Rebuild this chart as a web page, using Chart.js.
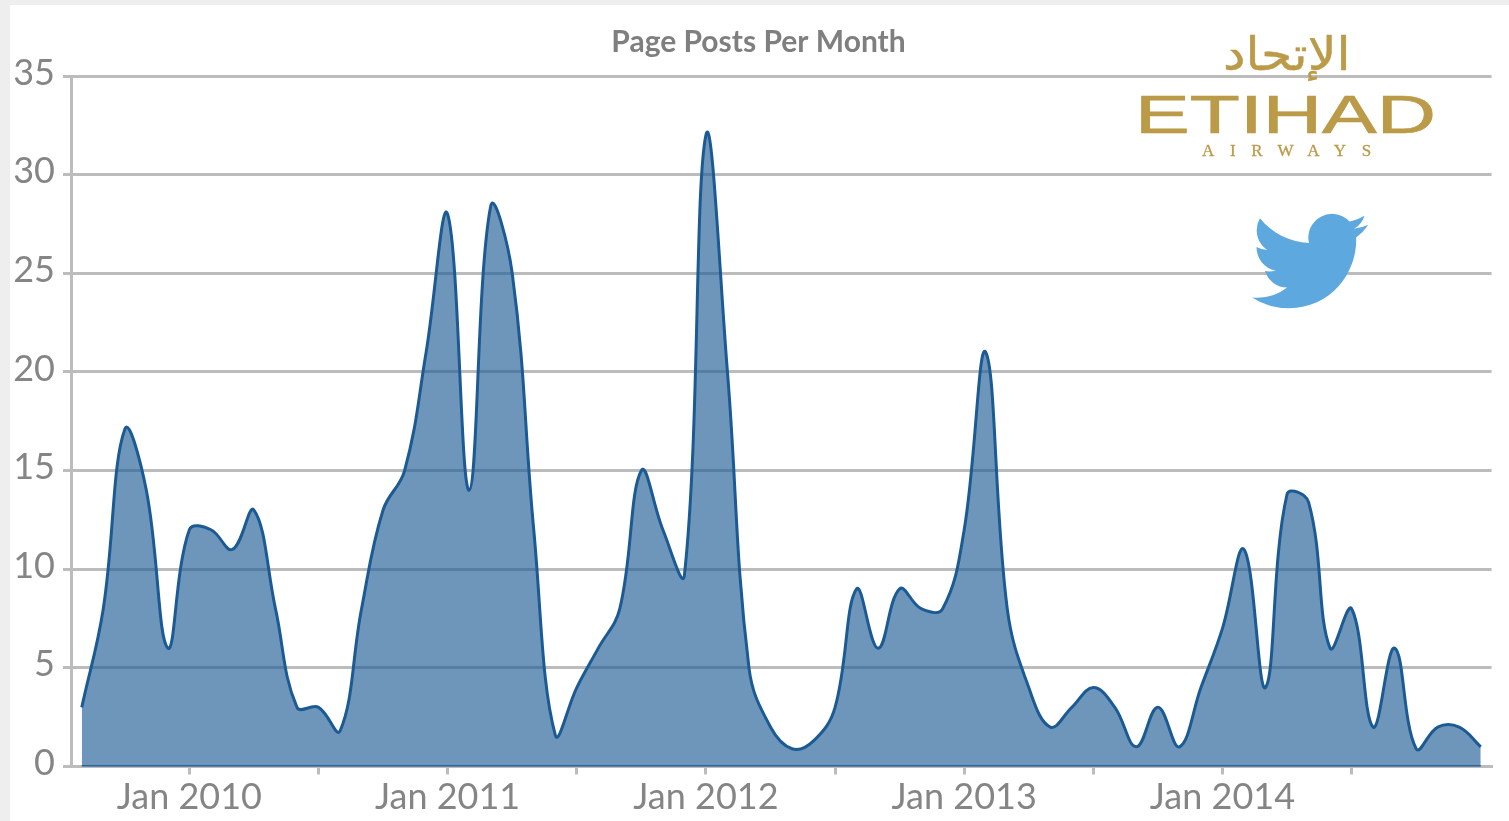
<!DOCTYPE html>
<html>
<head>
<meta charset="utf-8">
<title>Page Posts Per Month</title>
<script src="https://cdn.jsdelivr.net/npm/chart.js@4"></script>
<style>
html, body { margin: 0; width: 1509px; height: 821px; overflow: hidden; background: #eeeeee; }
#panel { position: absolute; left: 10px; top: 5px; width: 1499px; height: 816px; background: #fff; }
#myChart { position: absolute; left: 0; top: 0; }
.logo { position: absolute; color: #bb9a48; white-space: nowrap; transform-origin: 0 0; line-height: 1; }
#arabic { left: 1223px; top: 27px; font: 46px "DejaVu Sans"; -webkit-text-stroke: 0.5px #bb9a48; transform: scale(1.1, 1); }
#etihad { left: 1135px; top: 83px; font: 54px "Liberation Sans"; -webkit-text-stroke: 0.7px #bb9a48; transform: scaleX(1.52); }
#airways { left: 1202px; top: 141px; font: 17px "Liberation Serif"; letter-spacing: 15.7px; -webkit-text-stroke: 0.3px #bb9a48; }
#bird { position: absolute; left: 1252px; top: 203px; width: 116px; height: 116px; }
</style>
</head>
<body>
<div id="panel"></div>
<canvas id="myChart" width="1509" height="821"></canvas>
<div class="logo" id="arabic">الإتحاد</div>
<div class="logo" id="etihad">ETIHAD</div>
<div class="logo" id="airways">AIRWAYS</div>
<svg id="bird" viewBox="0 0 24 24"><path fill="#5da9df" d="M23.953 4.57a10 10 0 01-2.825.775 4.958 4.958 0 002.163-2.723c-.951.555-2.005.959-3.127 1.184a4.92 4.92 0 00-8.384 4.482C7.69 8.095 4.067 6.13 1.64 3.162a4.822 4.822 0 00-.666 2.475c0 1.71.87 3.213 2.188 4.096a4.904 4.904 0 01-2.228-.616v.06a4.923 4.923 0 003.946 4.827 4.996 4.996 0 01-2.212.085 4.936 4.936 0 004.604 3.417 9.867 9.867 0 01-6.102 2.105c-.39 0-.779-.023-1.17-.067a13.995 13.995 0 007.557 2.209c9.053 0 13.998-7.496 13.998-13.985 0-.21 0-.42-.015-.63A9.935 9.935 0 0024 4.59z"/></svg>
<script>
const months = ['Aug 2009','Sep 2009','Oct 2009','Nov 2009','Dec 2009',
    'Jan 2010','Feb 2010','Mar 2010','Apr 2010','May 2010','Jun 2010','Jul 2010','Aug 2010','Sep 2010','Oct 2010','Nov 2010','Dec 2010',
    'Jan 2011','Feb 2011','Mar 2011','Apr 2011','May 2011','Jun 2011','Jul 2011','Aug 2011','Sep 2011','Oct 2011','Nov 2011','Dec 2011',
    'Jan 2012','Feb 2012','Mar 2012','Apr 2012','May 2012','Jun 2012','Jul 2012','Aug 2012','Sep 2012','Oct 2012','Nov 2012','Dec 2012',
    'Jan 2013','Feb 2013','Mar 2013','Apr 2013','May 2013','Jun 2013','Jul 2013','Aug 2013','Sep 2013','Oct 2013','Nov 2013','Dec 2013',
    'Jan 2014','Feb 2014','Mar 2014','Apr 2014','May 2014','Jun 2014','Jul 2014','Aug 2014','Sep 2014','Oct 2014','Nov 2014','Dec 2014',
    'Jan 2015']
const posts = [3,8,17.1,14,6,
    12,12,11,13,8,3,3,1.8,8,13,15,21,
    28,14,28.4,25,12,1.6,4,6,8,15,12,9.7,
    32,20,5,2,0.9,1.3,3,9,6,9,8,8,
    12,21,8,4,2,3,4,3,1,3,1,4,
    7,11,4,13.8,13.4,6,8,2,6,0.9,2,2,
    1]
const baseline = months.map(() => 0)

const gridGrey = '#bcbcbc'
const textGrey = '#858585'
const lineBlue = '#1c5a94'

const ctx = document.getElementById('myChart')
new Chart(ctx, {
    type: 'line',
    data: {
        labels: months,
        datasets: [
            {
                label: 'Page Posts',
                data: posts,
                borderColor: lineBlue,
                backgroundColor: 'rgba(28, 90, 148, 0.64)',
                borderWidth: 3,
                fill: 'origin',
                tension: 0.4,
                pointRadius: 0
            },
            {
                label: 'baseline',
                data: baseline,
                borderColor: lineBlue,
                borderWidth: 2.5,
                fill: false,
                pointRadius: 0
            }
        ]
    },
    options: {
        responsive: false,
        animation: false,
        layout: { padding: { left: 0, right: 17.5, top: 0, bottom: 0 } },
        plugins: {
            legend: { display: false },
            tooltip: { enabled: false },
            title: {
                display: true,
                text: 'Page Posts Per Month',
                color: '#7f7f7f',
                font: { family: 'Lato', size: 30, weight: 'bold' },
                padding: { top: 24, bottom: 16 }
            }
        },
        scales: {
            x: {
                offset: true,
                afterFit: (s) => { s.height = 54.5 },
                afterBuildTicks: (s) => {
                    // Jan and Jul get a tick mark, the last month none
                    s.ticks = s.ticks.filter(t => t.value < months.length - 1 && /^(Jan|Jul)/.test(months[t.value]))
                },
                grid: { drawOnChartArea: false, color: gridGrey, lineWidth: 3, tickLength: 8 },
                border: { display: true, color: gridGrey, width: 3 },
                ticks: {
                    autoSkip: false,
                    maxRotation: 0,
                    padding: 1,
                    color: textGrey,
                    font: { family: 'Lato', size: 36 },
                    callback: function (value) {
                        const m = months[value]
                        return m.startsWith('Jan') ? m : ''
                    }
                }
            },
            y: {
                min: 0,
                max: 35,
                afterFit: (s) => { s.width = 71 },
                grid: { color: gridGrey, lineWidth: 3, tickLength: 8 },
                border: { display: true, color: gridGrey, width: 3 },
                ticks: {
                    stepSize: 5,
                    padding: 8,
                    labelOffset: -3,
                    color: textGrey,
                    font: { family: 'Lato', size: 36 }
                }
            }
        }
    },
    plugins: [{
        id: 'titleShift',
        // the title sits a little right of the canvas middle
        afterLayout: (chart) => { chart.titleBlock.left += 25.5 }
    }]
})
</script>
</body>
</html>
